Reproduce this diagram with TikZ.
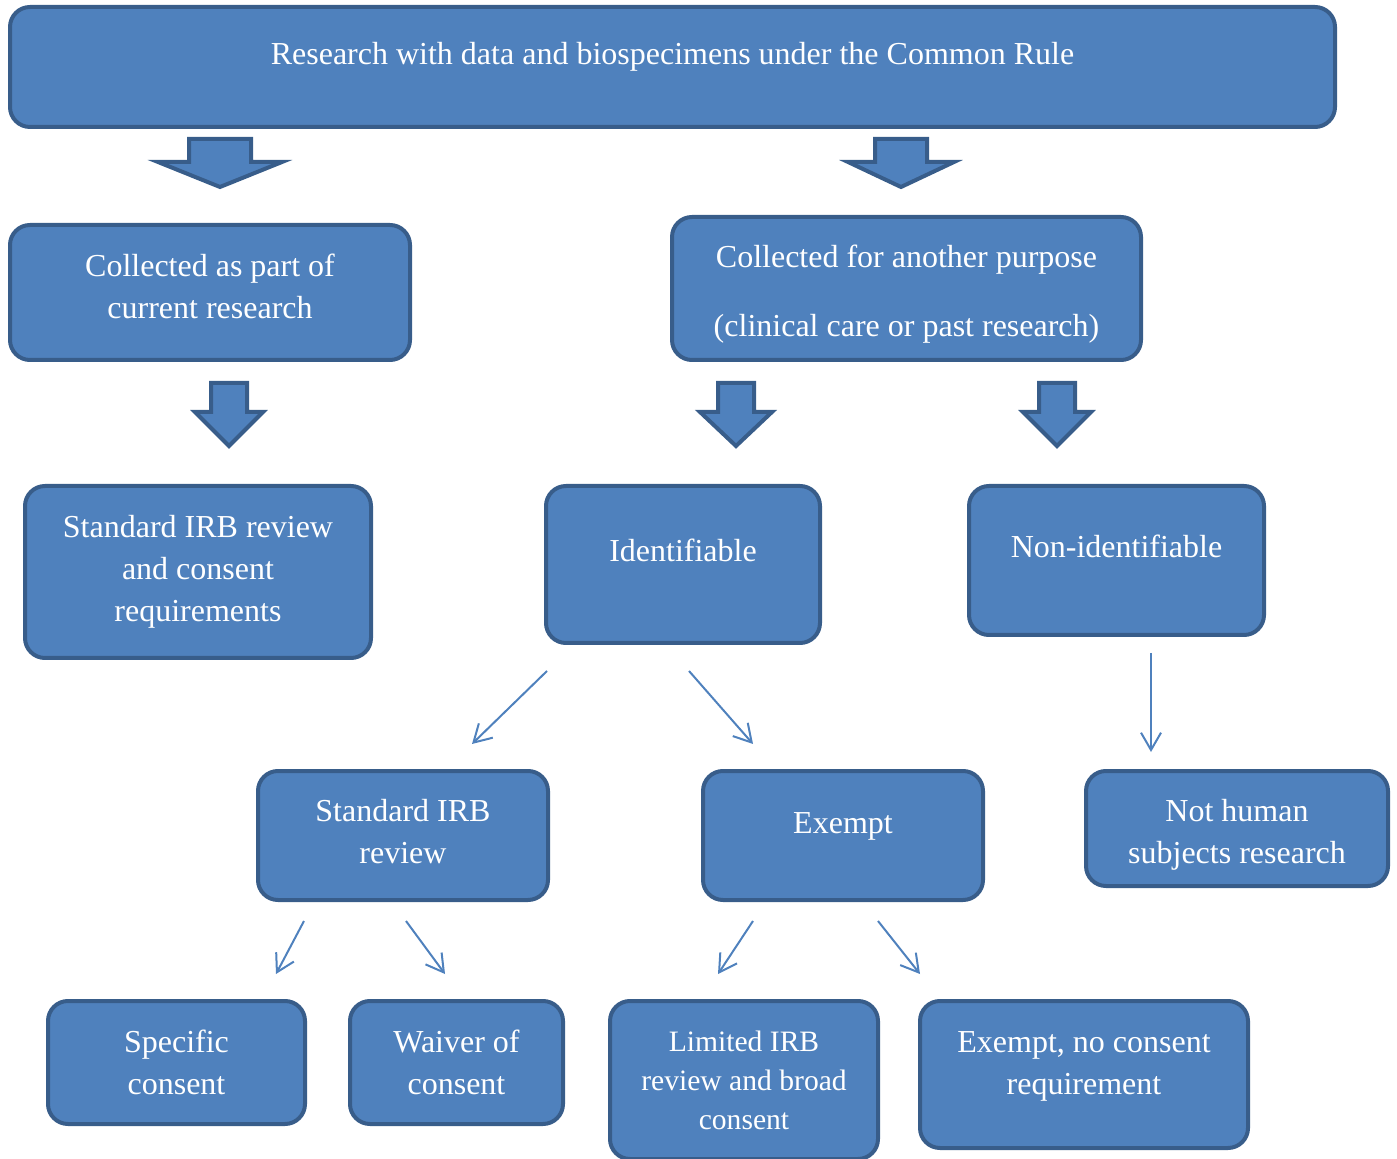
\documentclass[tikz,border=0pt]{standalone}
\usepackage{fontspec}
\setmainfont{Liberation Serif}
\usepackage{xcolor}
\usetikzlibrary{arrows.meta, positioning}

\definecolor{boxfill}{HTML}{4F81BD}
\definecolor{boxline}{HTML}{385D8A}

% wide down arrow: centre x, top y, shaft half width, head half width, head y, tip y
\newcommand{\blockarrow}[6]{%
  \filldraw[bigarrow] (#1-#3,#2) -- (#1+#3,#2) -- (#1+#3,#5) -- (#1+#4,#5)
    -- (#1,#6) -- (#1-#4,#5) -- (#1-#3,#5) -- cycle;}

\begin{document}
\begin{tikzpicture}[
    x=0.5pt, y=-0.5pt,
    box/.style={rectangle, draw=boxline, fill=boxfill, line width=2pt, rounded corners=10pt,
      text=white, align=center, inner sep=0pt, font=\fontsize{16}{21}\selectfont},
    bigarrow/.style={draw=boxline, fill=boxfill, line width=2pt, line join=miter},
    thin/.style={draw=boxfill, line width=1pt, -{Straight Barb[angle=60:10pt]}}
]
\useasboundingbox (0,0) rectangle (1397,1159);

% boxes
\node[box, minimum width=662.5pt, minimum height=60pt, text depth=14pt] (rule) at (672.5,67)
  {Research with data and biospecimens under the Common Rule};
\node[box, minimum width=200pt, minimum height=67.5pt, text depth=6.5pt] (current) at (210,292.5)
  {Collected as part of\\current research};
\node[box, minimum width=234.5pt, minimum height=71.5pt, text height=51.5pt] (other) at (906.5,288.5)
  {Collected for another purpose\\[13.5pt](clinical care or past research)};
\node[box, minimum width=173pt, minimum height=86pt] (standard) at (198,572)
  {Standard IRB review\\and consent\\requirements};
\node[box, minimum width=137pt, minimum height=78.5pt, text depth=14.5pt] (ident) at (683,564.5)
  {Identifiable};
\node[box, minimum width=147.5pt, minimum height=74.5pt, text depth=14.5pt] (nonident) at (1116.5,560.5)
  {Non-identifiable};
\node[box, minimum width=145pt, minimum height=64.5pt, text depth=4pt] (stdirb) at (403,835.5)
  {Standard IRB\\review};
\node[box, minimum width=140pt, minimum height=64.5pt, text depth=12pt] (exempt) at (843,835.5)
  {Exempt};
\node[box, minimum width=151pt, minimum height=57.5pt, text height=38pt] (nothuman) at (1237,828.5)
  {Not human\\subjects research};
\node[box, minimum width=128.5pt, minimum height=61.5pt] (specific) at (176.5,1062.5)
  {Specific\\consent};
\node[box, minimum width=106.5pt, minimum height=61.5pt] (waiver) at (456.5,1062.5)
  {Waiver of\\consent};
\node[box, minimum width=134pt, minimum height=79pt, font=\fontsize{14.8}{19.5}\selectfont] (limited) at (744,1080)
  {Limited IRB\\review and broad\\consent};
\node[box, minimum width=164pt, minimum height=73.5pt, text depth=11pt] (noconsent) at (1084,1074.5)
  {Exempt, no consent\\requirement};

% block arrows
\blockarrow{220}{139}{31}{62}{162}{187}
\blockarrow{901}{139}{26}{53}{162}{187}
\blockarrow{229}{383}{18}{34}{412}{446}
\blockarrow{736}{383}{18}{36}{412}{446}
\blockarrow{1057}{383}{18}{34}{412}{446}

% thin arrows
\coordinate (idl0) at (547,671);   \coordinate (idl1) at (472,744);
\coordinate (idr0) at (689,671);   \coordinate (idr1) at (753,744);
\coordinate (non0) at (1151,653);  \coordinate (non1) at (1151,752);
\coordinate (stl0) at (304,921);   \coordinate (stl1) at (276,974);
\coordinate (str0) at (406,921);   \coordinate (str1) at (445,974);
\coordinate (exl0) at (753,921);   \coordinate (exl1) at (718,974);
\coordinate (exr0) at (878,921);   \coordinate (exr1) at (920,974);

\draw[thin] (idl0) -- (idl1);
\draw[thin] (idr0) -- (idr1);
\draw[thin] (non0) -- (non1);
\draw[thin] (stl0) -- (stl1);
\draw[thin] (str0) -- (str1);
\draw[thin] (exl0) -- (exl1);
\draw[thin] (exr0) -- (exr1);

\end{tikzpicture}
\end{document}
